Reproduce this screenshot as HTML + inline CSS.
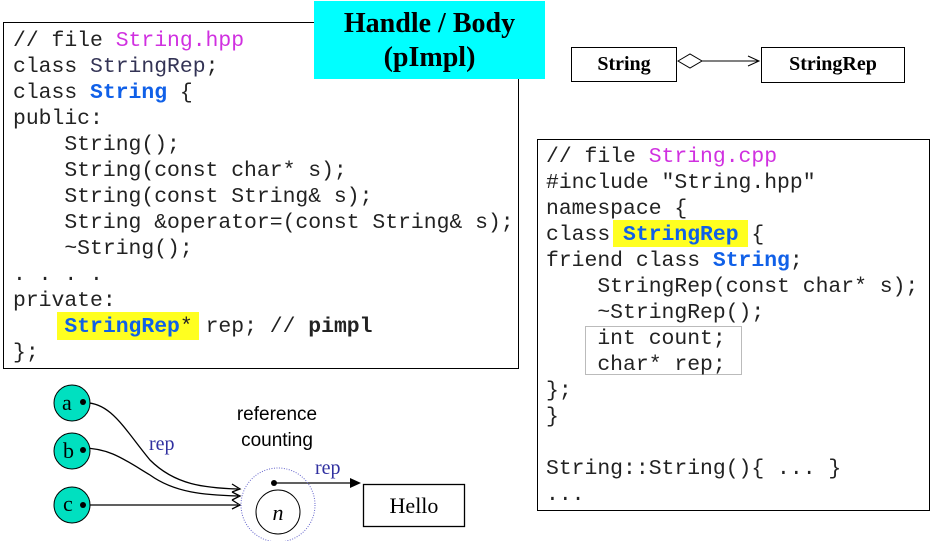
<html><head><style>
body{margin:0;width:932px;height:541px;background:#fff;position:relative;overflow:hidden;font-family:"Liberation Mono",monospace}
.a{position:absolute}
pre{margin:0;font-family:"Liberation Mono",monospace;font-size:21.4px;line-height:26px;color:#222}
.m{color:#d030e0}.b{color:#1060e8;font-weight:bold}.n{color:#335}
.t{font-family:"Liberation Serif",serif;font-weight:bold}
</style></head><body>
<div class="a" style="left:3px;top:22px;width:514px;height:345px;border:1.5px solid #000"></div>
<div class="a" style="left:57px;top:312px;width:142px;height:28px;background:#ffff20"></div>
<pre class="a" style="left:13px;top:28px">// file <span class="m">String.hpp</span>
class <span class="n">StringRep</span>;
class <span class="b">String</span> {
public:
    String();
    String(const char* s);
    String(const String&amp; s);
    String &amp;operator=(const String&amp; s);
    ~String();
. . . .
private:
    <span class="b">StringRep</span>* rep; // <b>pimpl</b>
};</pre>
<div class="a t" style="left:314px;top:1px;width:231px;height:78px;background:#00ffff;font-size:28px;line-height:34px;text-align:center;padding-top:6px;box-sizing:border-box">Handle / Body<br>(pImpl)</div>
<div class="a t" style="left:571px;top:47px;width:106px;height:35px;border:1.5px solid #000;box-sizing:border-box;font-size:20px;text-align:center;line-height:33px">String</div>
<div class="a t" style="left:761px;top:47px;width:144px;height:36px;border:1.5px solid #000;box-sizing:border-box;font-size:20px;text-align:center;line-height:33px">StringRep</div>
<svg class="a" style="left:0;top:0" width="932" height="541">
<polygon points="678,61 690,54 702,61 690,68" fill="#fff" stroke="#000"/>
<line x1="702" y1="61" x2="758" y2="61" stroke="#000"/>
<polyline points="748,56 759,61 748,66" fill="none" stroke="#000"/>
<rect x="585.5" y="326.5" width="156" height="48" fill="none" stroke="#777" stroke-dasharray="1,1"/>
<g stroke="#000" fill="none" stroke-width="1.3">
<path d="M82,403 C110,400 125,430 150,460 C175,485 205,488 238,489"/>
<path d="M82,448 C110,448 125,460 150,475 C175,493 205,495 238,496"/>
<path d="M82,505 L238,505"/>
<path d="M232,484 L240,489 L232,492 M232,492 L240,496 L232,500 M232,500 L240,505 L232,509"/>
<line x1="274" y1="483" x2="352" y2="483"/>
</g>
<polygon points="350,478 361,483 350,488" fill="#000"/>
<circle cx="278" cy="505" r="37" fill="none" stroke="#66c" stroke-dasharray="1,1.5"/>
<circle cx="278" cy="512" r="22" fill="none" stroke="#000"/>
<circle cx="72" cy="403" r="18" fill="#00e0c0" stroke="#000"/>
<circle cx="72" cy="451" r="18" fill="#00e0c0" stroke="#000"/>
<circle cx="72" cy="505" r="18" fill="#00e0c0" stroke="#000"/>
<g font-family="Liberation Serif,serif" font-size="22" fill="#000"><text x="62" y="410">a</text><text x="63" y="458">b</text><text x="63" y="511">c</text></g>
<circle cx="83" cy="402" r="3" fill="#000"/><circle cx="83" cy="450" r="3" fill="#000"/><circle cx="83" cy="505" r="3" fill="#000"/>
<circle cx="274" cy="483" r="3" fill="#000"/>
<text x="278" y="520" font-family="Liberation Serif,serif" font-style="italic" font-size="22" text-anchor="middle">n</text>
<g font-family="Liberation Serif,serif" font-size="20" fill="#3030a0"><text x="149" y="450">rep</text><text x="315" y="474">rep</text></g>
<g font-family="Liberation Sans,sans-serif" font-size="19" text-anchor="middle"><text x="277" y="420">reference</text><text x="277" y="446">counting</text></g>
<rect x="363.5" y="484.5" width="101" height="42" fill="#fff" stroke="#000" stroke-width="1.3"/>
<text x="414" y="513" font-family="Liberation Serif,serif" font-size="22" text-anchor="middle">Hello</text>
</svg>
<div class="a" style="left:537px;top:139px;width:391px;height:370px;border:1.5px solid #000"></div>
<div class="a" style="left:613px;top:220px;width:135px;height:27px;background:#ffff20"></div>
<pre class="a" style="left:546px;top:144px">// file <span class="m">String.cpp</span>
#include "String.hpp"
namespace {
class <span class="b">StringRep</span> {
friend class <span class="b">String</span>;
    StringRep(const char* s);
    ~StringRep();
    int count;
    char* rep;
};
}

String::String(){ ... }
...</pre>
</body></html>
